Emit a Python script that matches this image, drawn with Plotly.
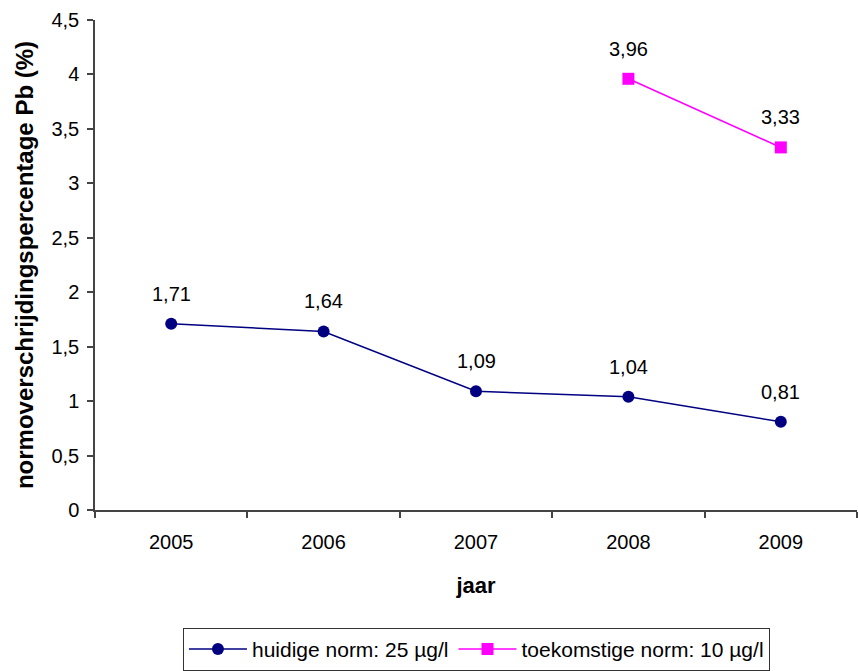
import plotly.graph_objects as go

years = ["2005", "2006", "2007", "2008", "2009"]
huidige = [1.71, 1.64, 1.09, 1.04, 0.81]
toekomst_years = ["2008", "2009"]
toekomst = [3.96, 3.33]
ytick_vals = [0, 0.5, 1, 1.5, 2, 2.5, 3, 3.5, 4, 4.5]
ytick_text = ["0", "0,5", "1", "1,5", "2", "2,5", "3", "3,5", "4", "4,5"]

FONT = "Liberation Sans, Arial, sans-serif"
NAVY = "#000080"
MAGENTA = "#FF00FF"
AXIS = "#444444"

def fmt(v):
    return f"{v:.2f}".replace(".", ",")

fig = go.Figure()
fig.add_trace(go.Scatter(
    x=years, y=huidige, mode="lines+markers", name="huidige norm: 25 µg/l",
    line=dict(color=NAVY, width=1.6),
    marker=dict(symbol="circle", size=12, color=NAVY),
))
fig.add_trace(go.Scatter(
    x=toekomst_years, y=toekomst, mode="lines+markers", name="toekomstige norm: 10 µg/l",
    line=dict(color=MAGENTA, width=1.6),
    marker=dict(symbol="square", size=12, color=MAGENTA),
))

for xs, ys in ((years, huidige), (toekomst_years, toekomst)):
    for x, y in zip(xs, ys):
        fig.add_annotation(x=years.index(x), y=y, xref="x", yref="y",
                           text=fmt(y), showarrow=False, yshift=30,
                           font=dict(family=FONT, size=20, color="black"))

fig.update_layout(
    width=858, height=671,
    margin=dict(l=95, r=1, t=20, b=160),
    paper_bgcolor="white", plot_bgcolor="white",
    font=dict(family=FONT, size=20, color="black"),
    showlegend=True,
    legend=dict(
        orientation="h", x=0.5006, xanchor="center", y=-0.238, yanchor="top",
        bordercolor="#333333", borderwidth=1, font=dict(family=FONT, size=21),
        itemwidth=58, tracegroupgap=0,
    ),
)
fig.update_xaxes(
    type="category", categoryorder="array", categoryarray=years,
    range=[-0.5, 4.5], tickson="boundaries", automargin=False,
    showline=True, linecolor=AXIS, linewidth=1.5,
    ticks="outside", ticklen=6, tickcolor=AXIS, tickwidth=1.5,
    showgrid=False, zeroline=False,
    ticklabelstandoff=13,
    tickfont=dict(family=FONT, size=20),
    title=dict(text="<b>jaar</b>", font=dict(family=FONT, size=22), standoff=26),
)
fig.update_yaxes(
    range=[0, 4.5], tickvals=ytick_vals, ticktext=ytick_text, automargin=False,
    showline=True, linecolor=AXIS, linewidth=1.5,
    ticks="outside", ticklen=6, tickcolor=AXIS, tickwidth=1.5,
    showgrid=False, zeroline=False,
    ticklabelstandoff=4,
    tickfont=dict(family=FONT, size=20),
    title=dict(text="<b>normoverschrijdingspercentage Pb (%)</b>",
               font=dict(family=FONT, size=24), standoff=11),
)

fig.write_html("out.html", config={"displayModeBar": False},
               post_script="document.body.style.margin='0px';")
